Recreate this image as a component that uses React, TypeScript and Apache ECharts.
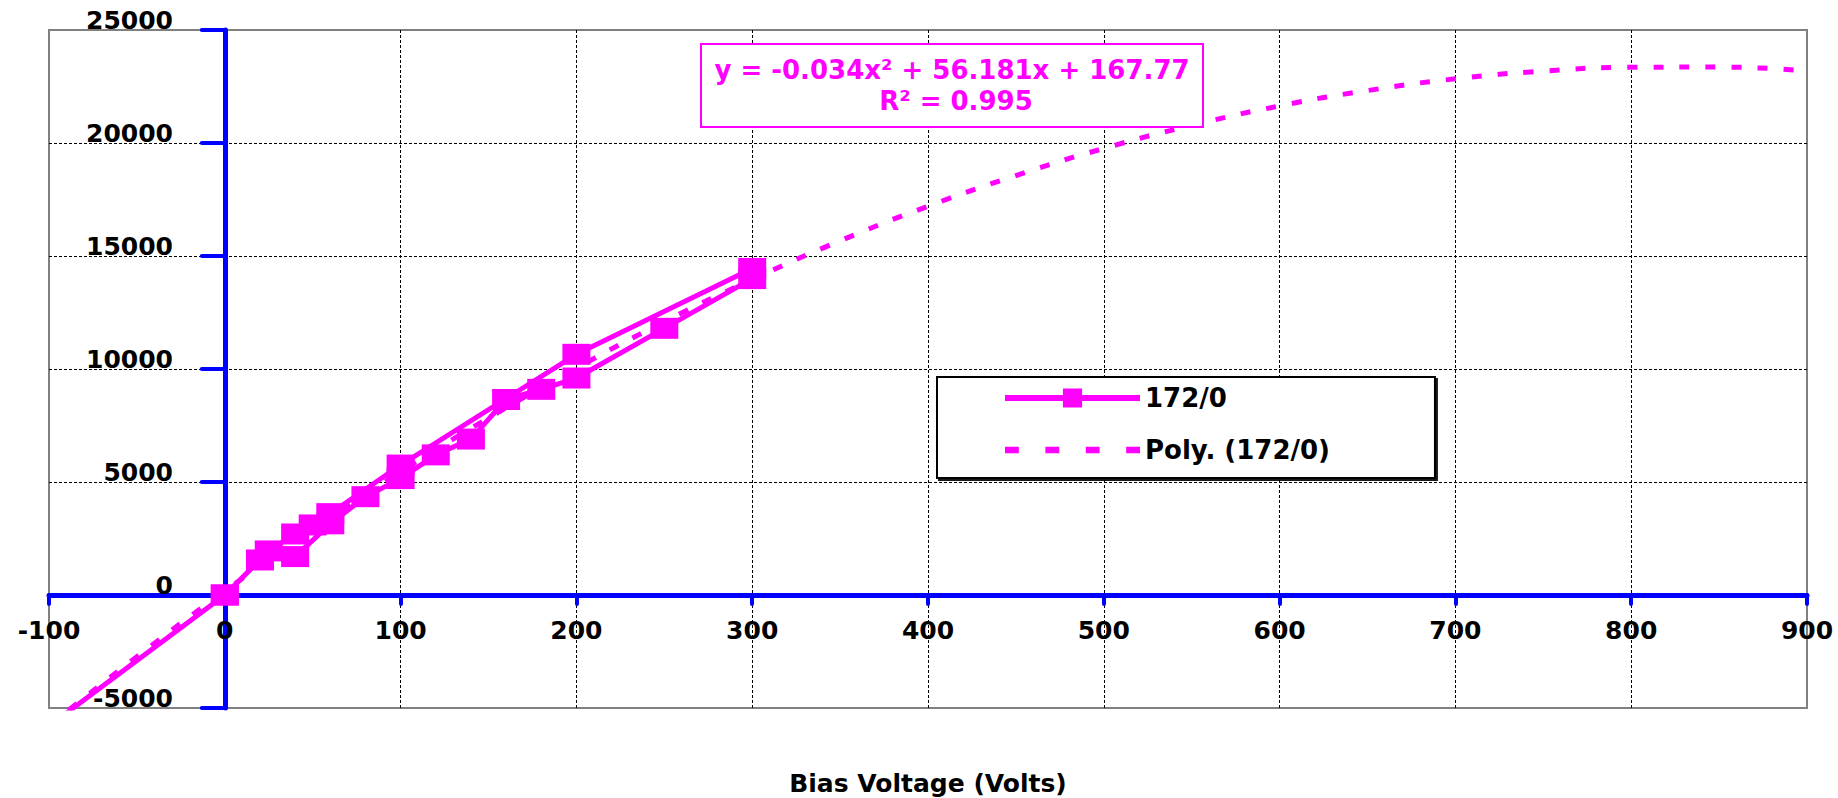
import React, { useEffect, useRef } from "react";
import * as echarts from "echarts";

const MAGENTA = "#FF00FF";
const BLUE = "#0000FF";
const FONT = "DejaVu Sans";

const X_MIN = -100;
const X_MAX = 900;
const X_STEP = 100;
const Y_MIN = -5000;
const Y_MAX = 25000;
const Y_STEP = 5000;

const seriesName = "172/0";
const trendName = "Poly. (172/0)";
const xAxisTitle = "Bias Voltage (Volts)";
const equationText = "y = -0.034x² + 56.181x + 167.77";
const rSquaredText = "R² = 0.995";

// Measured loop: increasing bias sweep, then decreasing sweep
const upVoltages = [0, 20, 40, 60, 80, 100, 120, 140, 160, 180, 200, 250, 300];
const upCounts = [0, 1550, 1700, 3150, 4350, 5150, 6200, 6900, 8650, 9100, 9600, 11800, 14000];
const downVoltages = [300, 200, 100, 60, 50, 40, 25, 0, -100];
const downCounts = [14450, 10650, 5750, 3600, 3100, 2700, 1950, 0, -5800];

// Polynomial trendline
const trendVoltages = [-100, -50, 0, 50, 100, 150, 200, 250, 300, 350, 400, 450, 500, 550, 600, 650, 700, 750, 800, 850, 900];
const trendCounts = [-5790, -2730, 170, 2890, 5450, 7830, 10040, 12090, 13960, 15670, 17200, 18560, 19760, 20780, 21640, 22320, 22840, 23180, 23350, 23360, 23190];

const measuredData = [
  ...upVoltages.map((v, i) => [v, upCounts[i]]),
  ...downVoltages.map((v, i) => [v, downCounts[i]]),
];
const trendData = trendVoltages.map((v, i) => [v, trendCounts[i]]);

const dottedIcon =
  "path://M0,0h13v6h-13z M38,0h13v6h-13z M76,0h13v6h-13z M114,0h13v6h-13z";

const labelStyle = {
  color: "#000",
  fontFamily: FONT,
  fontWeight: "bold" as const,
  fontSize: 25,
};

export default function App() {
  const ref = useRef<HTMLDivElement>(null);

  useEffect(() => {
    if (!ref.current) return;
    const chart = echarts.init(ref.current, undefined, { renderer: "svg" });
    const option = {
      animation: false,
      backgroundColor: "#fff",
      grid: {
        left: 49,
        right: 31,
        top: 30,
        bottom: 90,
        show: true,
        borderColor: "#808080",
        borderWidth: 2,
        backgroundColor: "#fff",
        containLabel: false,
        outerBoundsMode: "none",
      },
      legend: {
        orient: "vertical",
        left: 937,
        top: 377,
        padding: [6, 105, 13, 65],
        itemWidth: 135,
        itemHeight: 24,
        itemGap: 22,
        selectedMode: false,
        backgroundColor: "#fff",
        borderColor: "#000",
        borderWidth: 2,
        shadowColor: "rgba(0,0,0,0.9)",
        shadowBlur: 1,
        shadowOffsetX: 2,
        shadowOffsetY: 2,
        lineStyle: { width: 6 },
        textStyle: { ...labelStyle, fontSize: 26, lineHeight: 30 },
        data: [
          { name: seriesName },
          { name: trendName, icon: dottedIcon, itemStyle: { color: MAGENTA } },
        ],
      },
      xAxis: {
        type: "value",
        min: X_MIN,
        max: X_MAX,
        interval: X_STEP,
        name: xAxisTitle,
        nameLocation: "middle",
        nameGap: 61,
        nameTextStyle: { ...labelStyle, fontSize: 25, lineHeight: 28 },
        axisLine: {
          show: true,
          onZero: true,
          lineStyle: { color: BLUE, width: 5, cap: "round" },
        },
        axisTick: {
          show: true,
          length: 9,
          lineStyle: { color: BLUE, width: 4, cap: "round" },
        },
        axisLabel: {
          ...labelStyle,
          margin: -90,
          lineHeight: 25,
          formatter: (v: number) => String(v),
        },
        splitLine: {
          show: true,
          showMinLine: false,
          showMaxLine: false,
          lineStyle: { color: "#000", width: 1, type: [3, 2] },
        },
      },
      yAxis: {
        type: "value",
        min: Y_MIN,
        max: Y_MAX,
        interval: Y_STEP,
        axisLine: {
          show: true,
          onZero: true,
          lineStyle: { color: BLUE, width: 5, cap: "round" },
        },
        axisTick: {
          show: true,
          length: 23,
          lineStyle: { color: BLUE, width: 4, cap: "round" },
        },
        axisLabel: {
          ...labelStyle,
          margin: -124,
          verticalAlign: "bottom",
          lineHeight: 20,
          formatter: (v: number) => String(v),
        },
        splitLine: {
          show: true,
          showMinLine: false,
          showMaxLine: false,
          lineStyle: { color: "#000", width: 1, type: [3, 2] },
        },
      },
      series: [
        {
          name: trendName,
          type: "line",
          data: trendData,
          symbol: "none",
          smooth: true,
          clip: true,
          silent: true,
          z: 1,
          color: MAGENTA,
          lineStyle: { color: MAGENTA, width: 5, type: [10, 16] },
        },
        {
          name: seriesName,
          type: "line",
          data: measuredData,
          symbol: "rect",
          symbolSize: [28, 21],
          clip: true,
          silent: true,
          z: 3,
          color: MAGENTA,
          itemStyle: { color: MAGENTA },
          lineStyle: { color: MAGENTA, width: 5 },
        },
      ],
      graphic: [
        {
          type: "rect",
          z: 100,
          shape: { x: 701, y: 44, width: 502, height: 83 },
          style: { fill: "#fff", stroke: MAGENTA, lineWidth: 2 },
        },
        {
          type: "text",
          z: 101,
          x: 952,
          y: 70,
          style: {
            text: equationText,
            fill: MAGENTA,
            fontFamily: FONT,
            fontWeight: "bold",
            fontSize: 26,
            align: "center",
            verticalAlign: "middle",
          },
        },
        {
          type: "text",
          z: 101,
          x: 956,
          y: 101,
          style: {
            text: rSquaredText,
            fill: MAGENTA,
            fontFamily: FONT,
            fontWeight: "bold",
            fontSize: 26,
            align: "center",
            verticalAlign: "middle",
          },
        },
      ],
    };
    chart.setOption(option as any);
    return () => chart.dispose();
  }, []);

  return (
    <div
      ref={ref}
      style={{
        position: "absolute",
        left: 0,
        top: 0,
        width: 1838,
        height: 798,
        background: "#fff",
      }}
    />
  );
}
